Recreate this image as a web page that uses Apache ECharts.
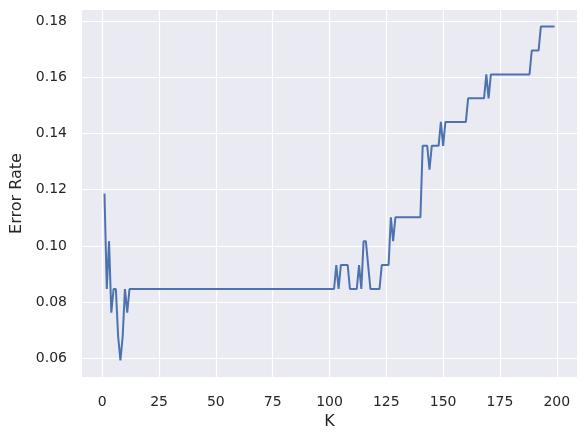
<!DOCTYPE html>
<html>
<head>
<meta charset="utf-8">
<script src="https://cdn.jsdelivr.net/npm/echarts@6/dist/echarts.min.js"></script>
<style>
  html, body { margin: 0; padding: 0; background: #fff; }
  #chart { width: 586px; height: 441px; }
</style>
</head>
<body>
<div id="chart"></div>
<script>
// 误差率数据 (K = 1 .. 199)
var errorRate = [
    0.1186, 0.0847, 0.1017, 0.0763, 0.0847, 0.0847, 0.0678, 0.0593, 0.0678, 0.0847,
    0.0763, 0.0847, 0.0847, 0.0847, 0.0847, 0.0847, 0.0847, 0.0847, 0.0847, 0.0847,
    0.0847, 0.0847, 0.0847, 0.0847, 0.0847, 0.0847, 0.0847, 0.0847, 0.0847, 0.0847,
    0.0847, 0.0847, 0.0847, 0.0847, 0.0847, 0.0847, 0.0847, 0.0847, 0.0847, 0.0847,
    0.0847, 0.0847, 0.0847, 0.0847, 0.0847, 0.0847, 0.0847, 0.0847, 0.0847, 0.0847,
    0.0847, 0.0847, 0.0847, 0.0847, 0.0847, 0.0847, 0.0847, 0.0847, 0.0847, 0.0847,
    0.0847, 0.0847, 0.0847, 0.0847, 0.0847, 0.0847, 0.0847, 0.0847, 0.0847, 0.0847,
    0.0847, 0.0847, 0.0847, 0.0847, 0.0847, 0.0847, 0.0847, 0.0847, 0.0847, 0.0847,
    0.0847, 0.0847, 0.0847, 0.0847, 0.0847, 0.0847, 0.0847, 0.0847, 0.0847, 0.0847,
    0.0847, 0.0847, 0.0847, 0.0847, 0.0847, 0.0847, 0.0847, 0.0847, 0.0847, 0.0847,
    0.0847, 0.0847, 0.0932, 0.0847, 0.0932, 0.0932, 0.0932, 0.0932, 0.0847, 0.0847,
    0.0847, 0.0847, 0.0932, 0.0847, 0.1017, 0.1017, 0.0932, 0.0847, 0.0847, 0.0847,
    0.0847, 0.0847, 0.0932, 0.0932, 0.0932, 0.0932, 0.1102, 0.1017, 0.1102, 0.1102,
    0.1102, 0.1102, 0.1102, 0.1102, 0.1102, 0.1102, 0.1102, 0.1102, 0.1102, 0.1102,
    0.1356, 0.1356, 0.1356, 0.1271, 0.1356, 0.1356, 0.1356, 0.1356, 0.1441, 0.1356,
    0.1441, 0.1441, 0.1441, 0.1441, 0.1441, 0.1441, 0.1441, 0.1441, 0.1441, 0.1441,
    0.1525, 0.1525, 0.1525, 0.1525, 0.1525, 0.1525, 0.1525, 0.1525, 0.1610, 0.1525,
    0.1610, 0.1610, 0.1610, 0.1610, 0.1610, 0.1610, 0.1610, 0.1610, 0.1610, 0.1610,
    0.1610, 0.1610, 0.1610, 0.1610, 0.1610, 0.1610, 0.1610, 0.1610, 0.1695, 0.1695,
    0.1695, 0.1695, 0.1780, 0.1780, 0.1780, 0.1780, 0.1780, 0.1780, 0.1780
];
var xTicks = [0, 25, 50, 75, 100, 125, 150, 175, 200];
var yTicks = [0.06, 0.08, 0.10, 0.12, 0.14, 0.16, 0.18];

// K 从 1 开始
var points = errorRate.map(function (v, i) { return [i + 1, v]; });

var myChart = echarts.init(document.getElementById('chart'));

var textColor = '#262626';
var font = 'DejaVu Sans';

var option = {
    animation: false,
    grid: {
        left: 82,
        right: 9,
        top: 10,
        bottom: 64,
        show: true,
        backgroundColor: '#EAEAF2',
        borderWidth: 0
    },
    xAxis: {
        type: 'value',
        min: -8.9,
        max: 208.9,
        name: 'K',
        nameLocation: 'middle',
        nameGap: 32,
        nameTextStyle: { color: textColor, fontSize: 16, fontFamily: font },
        axisLine: { show: false },
        axisTick: { show: false, customValues: xTicks },
        axisLabel: {
            customValues: xTicks,
            color: textColor, fontSize: 14, fontFamily: font, margin: 18
        },
        splitLine: { show: true, lineStyle: { color: '#fff', width: 1.2 } }
    },
    yAxis: {
        type: 'value',
        min: 0.0534,
        max: 0.1839,
        name: 'Error Rate',
        nameLocation: 'middle',
        nameGap: 56,
        nameTextStyle: { color: textColor, fontSize: 16, fontFamily: font },
        axisLine: { show: false },
        axisTick: { show: false, customValues: yTicks },
        axisLabel: {
            customValues: yTicks,
            formatter: function (v) { return v.toFixed(2); },
            color: textColor, fontSize: 14, fontFamily: font, margin: 15
        },
        splitLine: { show: true, lineStyle: { color: '#fff', width: 1.2 } }
    },
    series: [{
        type: 'line',
        data: points,
        showSymbol: false,
        lineStyle: { color: '#4C72B0', width: 2 },
        itemStyle: { color: '#4C72B0' }
    }]
};

myChart.setOption(option);
</script>
</body>
</html>
